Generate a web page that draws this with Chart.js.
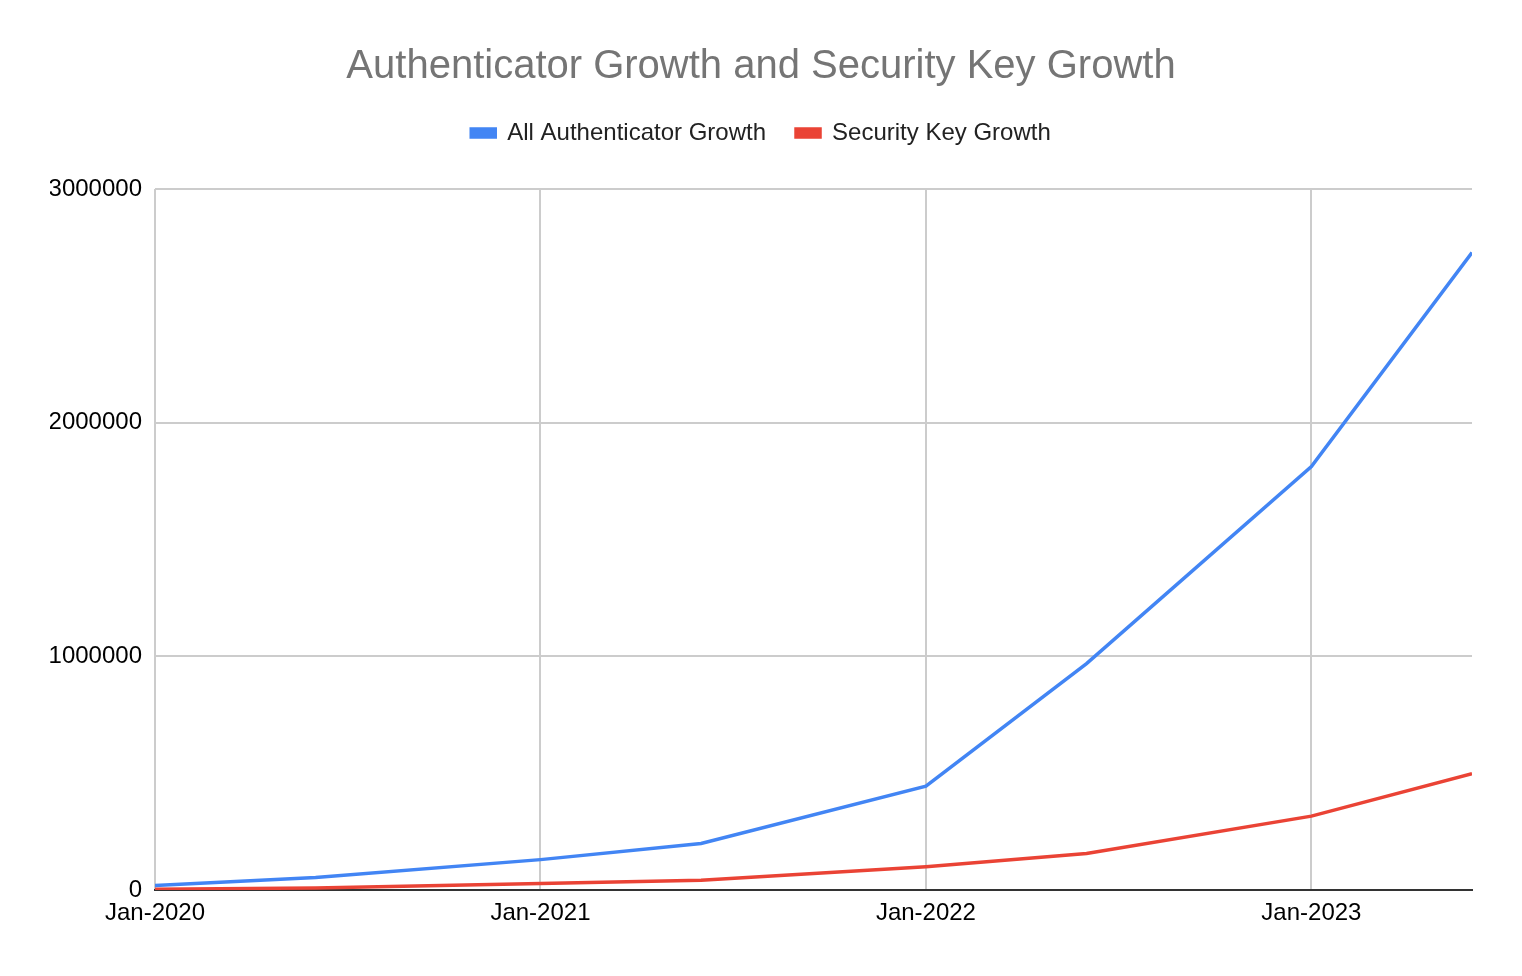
<!DOCTYPE html>
<html lang="en">
<head>
  <meta charset="UTF-8">
  <title>Authenticator Growth and Security Key Growth</title>
  <script src="https://cdn.jsdelivr.net/npm/chart.js"></script>
  <style>
    html, body { margin: 0; padding: 0; background: #fff; }
    #wrap { width: 1522px; height: 976px; }
  </style>
</head>
<body>
  <div id="wrap"><canvas id="grafico"></canvas></div>

  <script>
    // Periods (year, month) of each data point
    const periodos = [[2020, 1], [2020, 6], [2021, 1], [2021, 6], [2022, 1], [2022, 6], [2023, 1], [2023, 6]];
    const allAuthenticator = [19000, 53000, 130000, 199000, 444000, 969000, 1812000, 2728000];
    const securityKey = [3000, 9000, 28000, 42000, 100000, 156000, 316000, 498000];
    const xTickLabels = ['Jan-2020', 'Jan-2021', 'Jan-2022', 'Jan-2023'];
    const yTicks = [0, 1000000, 2000000, 3000000];

    // month offset from Jan-2020
    const mesIndex = p => (p[0] - 2020) * 12 + (p[1] - 1);
    const xTicks = xTickLabels.map((t, i) => i * 12);

    const fuente = "Arial, 'Liberation Sans', sans-serif";

    new Chart(document.getElementById('grafico'), {
      type: 'line',
      data: {
        datasets: [
          {
            label: 'All Authenticator Growth',
            data: periodos.map((p, i) => ({ x: mesIndex(p), y: allAuthenticator[i] })),
            borderColor: '#4285F4',
            backgroundColor: '#4285F4',
            borderWidth: 3.5,
            pointRadius: 0,
            tension: 0
          },
          {
            label: 'Security Key Growth',
            data: periodos.map((p, i) => ({ x: mesIndex(p), y: securityKey[i] })),
            borderColor: '#EA4335',
            backgroundColor: '#EA4335',
            borderWidth: 3.5,
            pointRadius: 0,
            tension: 0
          }
        ]
      },
      options: {
        responsive: true,
        maintainAspectRatio: false,
        animation: false,
        layout: { padding: { left: 50, right: 50, top: 0, bottom: 0 } },
        plugins: {
          title: {
            display: true,
            text: 'Authenticator Growth and Security Key Growth',
            color: '#757575',
            font: { family: fuente, size: 40, weight: 'normal' },
            padding: { top: 43, bottom: 0 }
          },
          legend: {
            display: true,
            labels: {
              color: '#222',
              font: { family: fuente, size: 24 },
              boxWidth: 24,
              boxHeight: 8,
              padding: 30
            }
          },
          // empty spacer between legend and plot area
          subtitle: {
            display: true,
            text: ' ',
            weight: 500,
            font: { size: 10 },
            padding: { top: 22, bottom: 0 }
          },
          tooltip: { enabled: false }
        },
        scales: {
          x: {
            type: 'linear',
            min: 0,
            max: mesIndex(periodos[periodos.length - 1]),
            afterBuildTicks: s => { s.ticks = xTicks.map(v => ({ value: v })); },
            afterFit: s => { s.height = 976 - 890; },
            ticks: {
              color: '#000',
              font: { family: fuente, size: 24 },
              padding: 9,
              maxRotation: 0,
              callback: v => xTickLabels[xTicks.indexOf(v)]
            },
            grid: { color: '#cccccc', lineWidth: 2, drawTicks: false },
            border: { color: '#333333', width: 2 }
          },
          y: {
            min: 0,
            max: 3000000,
            afterBuildTicks: s => { s.ticks = yTicks.map(v => ({ value: v })); },
            afterFit: s => { s.width = 105; },
            ticks: {
              color: '#000',
              font: { family: fuente, size: 24 },
              padding: 13,
              callback: v => String(v)
            },
            grid: { color: '#cccccc', lineWidth: 2, drawTicks: false },
            border: { display: false }
          }
        }
      }
    });
  </script>
</body>
</html>
